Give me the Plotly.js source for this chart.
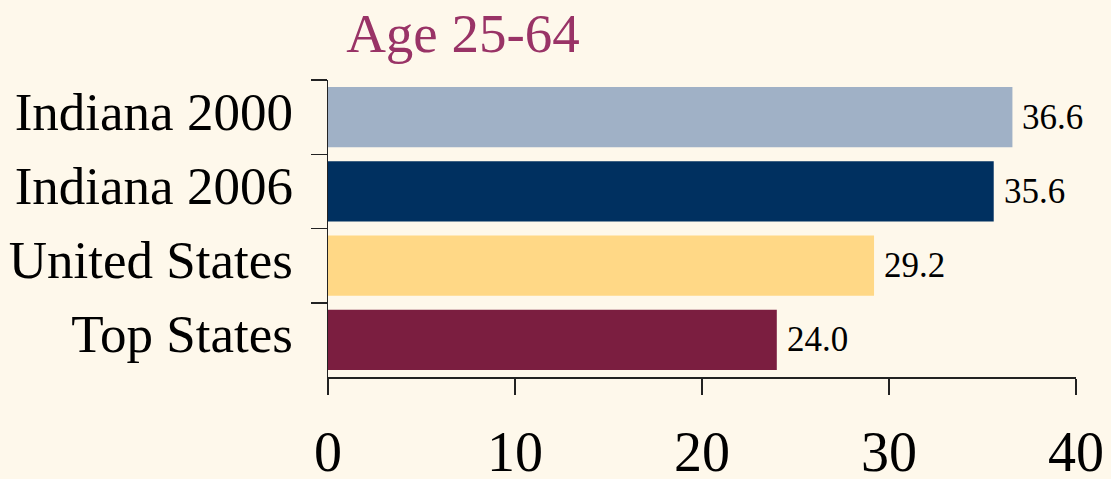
<!DOCTYPE html>
<html>
<head>
<meta charset="utf-8">
<script src="https://cdn.plot.ly/plotly-3.0.1.min.js"></script>
<style>html,body{margin:0;padding:0;background:#FEF8EB;}#chart{width:1111px;height:479px;}</style>
</head>
<body>
<div id="chart"></div>
<script>
const categories = ['Indiana 2000', 'Indiana 2006', 'United States', 'Top States'];
const values = [36.6, 35.6, 29.2, 24.0];
const valueLabels = ['36.6', '35.6', '29.2', '24.0'];
const barColors = ['#A0B1C6', '#003060', '#FFD886', '#7B1E40'];
const xTickValues = [0, 10, 20, 30, 40];
const xTickLabels = ['0', '10', '20', '30', '40'];
const chartTitle = 'Age 25-64';

const serif = 'Liberation Serif, Times New Roman, serif';

const trace = {
  type: 'bar',
  orientation: 'h',
  x: values,
  y: categories,
  marker: {color: barColors, line: {width: 0}},
  hoverinfo: 'none'
};

const annotations = values.map((v, i) => ({
  x: v, y: categories[i], xref: 'x', yref: 'y',
  text: valueLabels[i], showarrow: false,
  xanchor: 'left', yanchor: 'middle', xshift: 8,
  font: {family: serif, size: 35, color: '#000000'}
}));

const layout = {
  width: 1111, height: 479,
  paper_bgcolor: '#FEF8EB', plot_bgcolor: '#FEF8EB',
  margin: {l: 328, r: 35, t: 80, b: 102},
  showlegend: false,
  bargap: 0.19,
  title: {
    text: chartTitle,
    font: {family: serif, size: 55, color: '#993366'},
    xref: 'container', x: 463 / 1111, xanchor: 'center',
    yref: 'container', y: 1 - 33 / 479, yanchor: 'middle'
  },
  xaxis: {
    range: [0, 40],
    tickvals: xTickValues, ticktext: xTickLabels,
    ticks: 'outside', ticklen: 16, tickwidth: 1.5, tickcolor: '#222',
    showline: true, linecolor: '#222', linewidth: 1.5,
    showgrid: false, zeroline: false,
    tickfont: {family: serif, size: 56, color: '#000'},
    ticklabelstandoff: 9,
    fixedrange: true
  },
  yaxis: {
    type: 'category',
    autorange: 'reversed',
    tickson: 'boundaries',
    ticks: 'outside', ticklen: 16, tickwidth: 1.5, tickcolor: '#222',
    showline: true, linecolor: '#222', linewidth: 1.5,
    showgrid: false, zeroline: false,
    tickfont: {family: serif, size: 53, color: '#000'},
    ticklabelstandoff: 23,
    ticklabelshift: 6,
    fixedrange: true
  },
  annotations: annotations
};

Plotly.newPlot('chart', [trace], layout, {displayModeBar: false, staticPlot: true});
</script>
</body>
</html>
